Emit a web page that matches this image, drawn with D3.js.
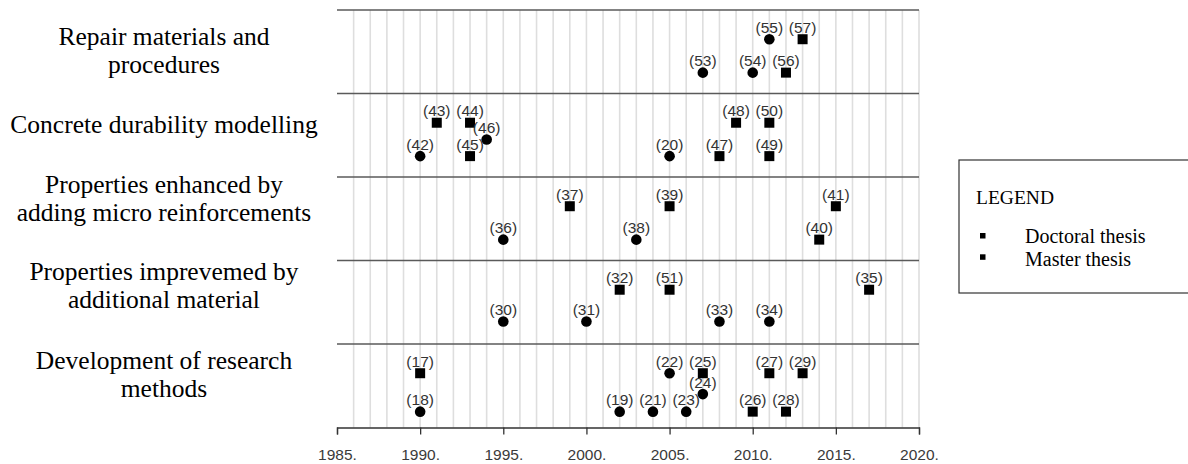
<!DOCTYPE html>
<html>
<head>
<meta charset="utf-8">
<script src="https://cdn.jsdelivr.net/npm/d3@7"></script>
<style>
  html, body { margin: 0; padding: 0; background: #fff; }
  svg { display: block; }
</style>
</head>
<body>
<svg id="chart" width="1188" height="464"></svg>
<script>
// ---------------- DATA ----------------
// Categories, bottom (index 0) to top (index 4), each split in label lines
const categories = [
  ["Development of research", "methods"],
  ["Properties imprevemed by", "additional material"],
  ["Properties enhanced by", "adding micro reinforcements"],
  ["Concrete durability modelling"],
  ["Repair materials and", "procedures"]
];

// Thesis reference numbers, year, category index, vertical lane within category, marker shape
const thesisIds = [55, 57, 53, 54, 56,
                   43, 44, 46, 42, 45, 20, 47, 48, 50, 49,
                   37, 39, 41, 36, 38, 40,
                   32, 51, 35, 30, 31, 33, 34,
                   17, 22, 25, 27, 29, 24, 18, 19, 21, 23, 26, 28];
const thesisYears = [2011, 2013, 2007, 2010, 2012,
                     1991, 1993, 1994, 1990, 1993, 2005, 2008, 2009, 2011, 2011,
                     1999, 2005, 2015, 1995, 2003, 2014,
                     2002, 2005, 2017, 1995, 2000, 2008, 2011,
                     1990, 2005, 2007, 2011, 2013, 2007, 1990, 2002, 2004, 2006, 2010, 2012];
const thesisCategory = [4, 4, 4, 4, 4,
                        3, 3, 3, 3, 3, 3, 3, 3, 3, 3,
                        2, 2, 2, 2, 2, 2,
                        1, 1, 1, 1, 1, 1, 1,
                        0, 0, 0, 0, 0, 0, 0, 0, 0, 0, 0, 0];
const thesisLane = [0.65, 0.65, 0.25, 0.25, 0.25,
                    0.65, 0.65, 0.45, 0.25, 0.25, 0.25, 0.25, 0.65, 0.65, 0.25,
                    0.65, 0.65, 0.65, 0.25, 0.25, 0.25,
                    0.65, 0.65, 0.65, 0.27, 0.27, 0.27, 0.27,
                    0.65, 0.65, 0.65, 0.65, 0.65, 0.40, 0.19, 0.19, 0.19, 0.19, 0.19, 0.19];
const thesisShape = ["circle", "square", "circle", "circle", "square",
                     "square", "square", "circle", "circle", "square", "circle", "square", "square", "square", "square",
                     "square", "square", "square", "circle", "circle", "square",
                     "square", "square", "square", "circle", "circle", "circle", "circle",
                     "square", "circle", "square", "square", "square", "circle", "circle", "circle", "circle", "circle", "square", "square"];

const yearTicks = [1985, 1990, 1995, 2000, 2005, 2010, 2015, 2020];
const gridYears = d3.range(1986, 2021);
const legendTitle = "LEGEND";
const legendItems = ["Doctoral thesis", "Master thesis"];

// ---------------- LAYOUT ----------------
const svg = d3.select("#chart");
const x = d3.scaleLinear().domain([1985, 2020]).range([337, 919]);
const y = d3.scaleLinear().domain([0, 5]).range([427.5, 10]);

// label first-line baselines per category (layout only)
const labelBaseline = [368.5, 280, 192.5, 133, 45];
const labelCenterX = 164;
const lineGap = 28.3;

const serif = "'Liberation Serif', 'Times New Roman', serif";
const sans = "'Liberation Sans', Arial, sans-serif";

// vertical grid
svg.append("g").selectAll("line").data(gridYears).join("line")
  .attr("x1", d => x(d)).attr("x2", d => x(d))
  .attr("y1", y(5)).attr("y2", y(0))
  .attr("stroke", "#dedede").attr("stroke-width", 1.6);

// separators between categories
svg.append("g").selectAll("line").data(d3.range(1, 6)).join("line")
  .attr("x1", x(1985)).attr("x2", x(2020))
  .attr("y1", d => y(d)).attr("y2", d => y(d))
  .attr("stroke", "#5a5a5a").attr("stroke-width", 1.6);

// x axis
const axis = d3.axisBottom(x).tickValues(yearTicks).tickFormat(d => d + ".").tickSize(7).tickPadding(14);
const gAxis = svg.append("g").attr("transform", `translate(0,${y(0)})`).call(axis);
gAxis.select(".domain").attr("stroke", "#333").attr("stroke-width", 1.3);
gAxis.selectAll(".tick line").attr("stroke", "#333").attr("stroke-width", 1.3);
gAxis.selectAll(".tick text").attr("fill", "#3a3a3a").style("font-family", sans).style("font-size", "15.5px");

// category labels
categories.forEach((lines, i) => {
  const t = svg.append("text")
    .attr("text-anchor", "middle")
    .style("font-family", serif).style("font-size", "25.5px").attr("fill", "#000");
  lines.forEach((ln, j) => {
    t.append("tspan").attr("x", labelCenterX).attr("y", labelBaseline[i] + j * lineGap).text(ln);
  });
});

// points
const pts = thesisIds.map((id, i) => ({
  id, year: thesisYears[i], yv: thesisCategory[i] + thesisLane[i], shape: thesisShape[i]
}));
const gPts = svg.append("g");
gPts.selectAll("rect").data(pts.filter(d => d.shape === "square")).join("rect")
  .attr("x", d => x(d.year) - 5).attr("y", d => y(d.yv) - 5)
  .attr("width", 10).attr("height", 10).attr("fill", "#000");
gPts.selectAll("circle").data(pts.filter(d => d.shape === "circle")).join("circle")
  .attr("cx", d => x(d.year)).attr("cy", d => y(d.yv)).attr("r", 5.3).attr("fill", "#000");
gPts.selectAll("text").data(pts).join("text")
  .attr("x", d => x(d.year)).attr("y", d => y(d.yv) - 6.5)
  .attr("text-anchor", "middle")
  .style("font-family", sans).style("font-size", "15.5px").attr("fill", "#333")
  .text(d => `(${d.id})`);

// legend
const lg = svg.append("g");
lg.append("rect").attr("x", 959).attr("y", 160).attr("width", 240).attr("height", 133)
  .attr("fill", "#fff").attr("stroke", "#333").attr("stroke-width", 1.2);
lg.append("text").attr("x", 976).attr("y", 204).text(legendTitle)
  .style("font-family", serif).style("font-size", "19.5px").attr("fill", "#000");
legendItems.forEach((t, i) => {
  lg.append("rect").attr("x", 980).attr("y", 233 + i * 21.3).attr("width", 5.5).attr("height", 5.5).attr("fill", "#000");
  lg.append("text").attr("x", 1025).attr("y", 242.7 + i * 23.3).text(t)
    .style("font-family", serif).style("font-size", "20px").attr("fill", "#000");
});
</script>
</body>
</html>
